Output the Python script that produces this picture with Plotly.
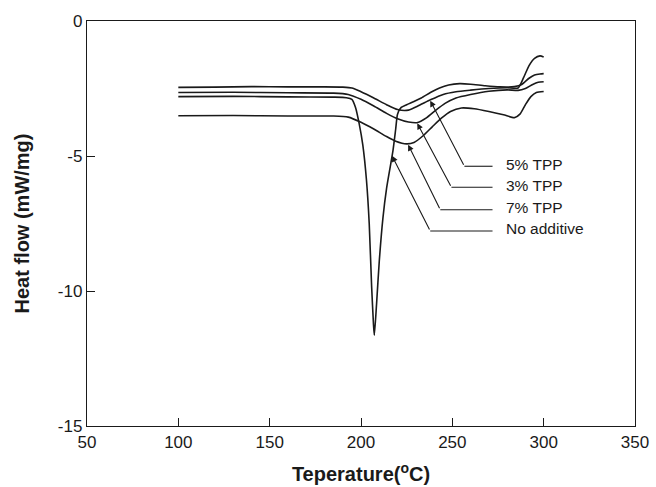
import plotly.graph_objects as go

# DSC heating curves (temperature in degC, heat flow in mW/mg)
t_5 = [100, 120, 140, 160, 180, 190, 195, 200, 207, 214, 220, 226, 232, 238, 245, 252,
       260, 270, 280, 286, 289, 292, 295, 298, 300]
hf_5 = [-2.46, -2.45, -2.43, -2.44, -2.44, -2.45, -2.48, -2.62, -2.85, -3.1, -3.28, -3.3,
        -3.12, -2.92, -2.72, -2.62, -2.56, -2.5, -2.47, -2.48, -2.1, -1.65, -1.38, -1.29, -1.33]

t_3 = [100, 130, 160, 185, 193, 200, 207, 214, 220, 226, 231, 236, 241, 246, 252, 260,
       270, 280, 286, 290, 294, 297, 300]
hf_3 = [-2.65, -2.64, -2.66, -2.67, -2.72, -2.9, -3.15, -3.42, -3.62, -3.74, -3.76, -3.58,
        -3.3, -3.05, -2.85, -2.72, -2.6, -2.55, -2.57, -2.5, -2.35, -2.27, -2.25]

t_7 = [100, 130, 160, 185, 193, 200, 207, 214, 219, 225, 229, 234, 239, 244, 249, 255,
       262, 270, 278, 284, 287, 290, 293, 296, 300]
hf_7 = [-3.51, -3.5, -3.52, -3.52, -3.56, -3.75, -4.0, -4.28, -4.45, -4.55, -4.5, -4.25,
        -3.92, -3.6, -3.35, -3.22, -3.25, -3.35, -3.47, -3.58, -3.45, -3.1, -2.8, -2.65, -2.61]

t_0 = [100, 130, 160, 185, 192, 195, 197, 199, 201, 203, 204.5, 205.8, 206.8, 207.3,
       208.5, 210, 212, 214, 216, 217.5, 219, 220, 222, 225, 229, 233, 238, 243, 248,
       254, 260, 268, 276, 284, 288, 292, 295, 298, 300]
hf_0 = [-2.8, -2.79, -2.81, -2.82, -2.84, -2.9, -3.2, -3.8, -4.6, -5.9, -7.5, -9.8, -11.2,
        -11.64, -10.5, -8.9, -7.3, -6.2, -5.4, -4.8, -4.0, -3.45, -3.2, -3.1, -2.98, -2.85,
        -2.65, -2.48, -2.37, -2.32, -2.34, -2.4, -2.44, -2.43, -2.35, -2.12, -2.0, -1.96, -1.95]

series = [("5% TPP", t_5, hf_5), ("3% TPP", t_3, hf_3),
          ("7% TPP", t_7, hf_7), ("No additive", t_0, hf_0)]

# Callout labels: text, arrow tip on the curve, elbow of the leader, leader end
labels = ["5% TPP", "3% TPP", "7% TPP", "No additive"]
tip_x = [237.9, 230.8, 225.8, 217.0]
tip_y = [-2.95, -3.79, -4.58, -4.99]
elbow_x = [256.6, 249.5, 243.4, 237.9]
lead_y = [-5.38, -6.16, -6.99, -7.78]
lead_end_x = 272.0
text_x = 278.5

x_ticks = [50, 100, 150, 200, 250, 300, 350]
y_ticks = [0, -5, -10, -15]
y_ticktext = ["0", "-5", "-10", "-15"]

ink = "#1a1a1a"
font_family = "Arial, Liberation Sans, sans-serif"

fig = go.Figure()
for name, tx, hy in series:
    fig.add_trace(go.Scatter(x=tx, y=hy, mode="lines", name=name,
                             line=dict(color=ink, width=1.6, shape="spline", smoothing=0.6),
                             showlegend=False, hoverinfo="skip"))

for i, lab in enumerate(labels):
    # horizontal part of the leader
    fig.add_trace(go.Scatter(x=[lead_end_x, elbow_x[i]], y=[lead_y[i], lead_y[i]],
                             mode="lines", line=dict(color=ink, width=1.1),
                             showlegend=False, hoverinfo="skip"))
    # slanted part ending in an arrowhead on the curve
    fig.add_annotation(x=tip_x[i], y=tip_y[i], ax=elbow_x[i], ay=lead_y[i],
                       xref="x", yref="y", axref="x", ayref="y", text="",
                       showarrow=True, arrowhead=2, arrowsize=1.1, arrowwidth=1.1,
                       arrowcolor=ink, standoff=0)
    fig.add_annotation(x=text_x, y=lead_y[i] + 0.08, xref="x", yref="y", text=lab,
                       showarrow=False, xanchor="left", yanchor="middle",
                       font=dict(family=font_family, size=15.5, color=ink))

axis_common = dict(showline=True, linecolor=ink, linewidth=1.3, mirror=True,
                   ticks="inside", ticklen=8, tickwidth=1.2, tickcolor=ink,
                   showgrid=False, zeroline=False, automargin=False,
                   tickfont=dict(family=font_family, size=17, color=ink))

fig.update_xaxes(range=[50, 350], tickvals=x_ticks,
                 title=dict(text="<b>Teperature(<sup>o</sup>C)</b>", standoff=16,
                            font=dict(family=font_family, size=20, color=ink)),
                 **axis_common)
fig.update_yaxes(range=[-15, 0], tickvals=y_ticks, ticktext=y_ticktext,
                 title=dict(text="<b>Heat flow (mW/mg)</b>", standoff=22,
                            font=dict(family=font_family, size=20, color=ink)),
                 **axis_common)

fig.update_layout(width=656, height=487,
                  margin=dict(l=87, r=21, t=21, b=61),
                  paper_bgcolor="white", plot_bgcolor="white")

fig.write_html("out.html")
